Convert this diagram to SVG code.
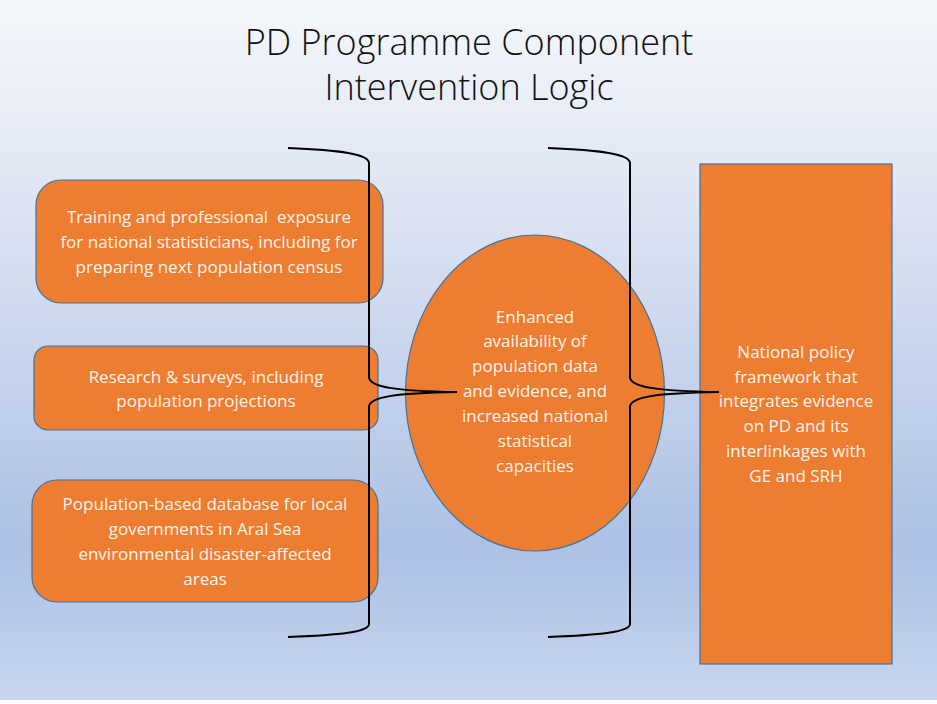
<svg xmlns="http://www.w3.org/2000/svg" width="937" height="704" viewBox="0 0 937 704">
<defs>
<linearGradient id="bg" x1="0" y1="0" x2="0" y2="1">
<stop offset="0" stop-color="#f5f7fb"/>
<stop offset="0.3" stop-color="#dde4f2"/>
<stop offset="0.78" stop-color="#adc1e5"/>
<stop offset="1" stop-color="#c7d5ee"/>
</linearGradient>
<style>
.shape{fill:#ed7d31;stroke:#41719c;stroke-width:1.2}
.lbl{font-family:"Open Sans","Liberation Sans",Arial,sans-serif;font-size:17px;fill:#fdf3ec;text-anchor:middle;white-space:pre}
.title{font-family:"Open Sans","Liberation Sans",Arial,sans-serif;font-weight:300;font-size:36px;fill:#111;text-anchor:middle}
.brace{fill:none;stroke:#000;stroke-width:2}
</style>
</defs>
<rect x="0" y="0" width="937" height="700" fill="url(#bg)"/>
<rect x="0" y="700" width="937" height="4" fill="#ffffff"/>
<g id="title">
<text class="title" x="469" y="55">PD Programme Component</text>
<text class="title" x="469" y="100">Intervention Logic</text>
</g>
<g id="node-training">
<rect class="shape" x="36" y="180" width="347" height="123" rx="25"/>
<text class="lbl" x="209" y="223" xml:space="preserve">Training and professional  exposure</text>
<text class="lbl" x="209" y="248">for national statisticians, including for</text>
<text class="lbl" x="209" y="273">preparing next population census</text>
</g>
<g id="node-research">
<rect class="shape" x="34" y="346" width="344" height="84" rx="14"/>
<text class="lbl" x="206" y="383">Research &amp; surveys, including</text>
<text class="lbl" x="206" y="407">population projections</text>
</g>
<g id="node-database">
<rect class="shape" x="32" y="480" width="346" height="122" rx="25"/>
<text class="lbl" x="205" y="510">Population-based database for local</text>
<text class="lbl" x="205" y="535">governments in Aral Sea</text>
<text class="lbl" x="205" y="560">environmental disaster-affected</text>
<text class="lbl" x="205" y="585">areas</text>
</g>
<g id="node-enhanced">
<ellipse class="shape" cx="535" cy="393" rx="129.5" ry="158"/>
<text class="lbl" x="535" y="323">Enhanced</text>
<text class="lbl" x="535" y="347">availability of</text>
<text class="lbl" x="535" y="372">population data</text>
<text class="lbl" x="535" y="397">and evidence, and</text>
<text class="lbl" x="535" y="422">increased national</text>
<text class="lbl" x="535" y="447">statistical</text>
<text class="lbl" x="535" y="472">capacities</text>
</g>
<g id="node-policy">
<rect class="shape" x="700" y="164" width="192" height="500"/>
<text class="lbl" x="796" y="358">National policy</text>
<text class="lbl" x="796" y="383">framework that</text>
<text class="lbl" x="796" y="407">integrates evidence</text>
<text class="lbl" x="796" y="432">on PD and its</text>
<text class="lbl" x="796" y="457">interlinkages with</text>
<text class="lbl" x="796" y="482">GE and SRH</text>
</g>
<g id="connectors">
<path class="brace" d="M288,148 C340,150 369,154 369,163 L369,377 C369,387 395,391 457,392 C395,393 369,397 369,407 L369,624 C369,632 340,635 288,637"/>
<path class="brace" d="M548,148 C600,150 630,154 630,163 L630,377 C630,387 656,391 719,392 C656,393 630,397 630,407 L630,624 C630,632 600,635 548,637"/>
</g>
</svg>
